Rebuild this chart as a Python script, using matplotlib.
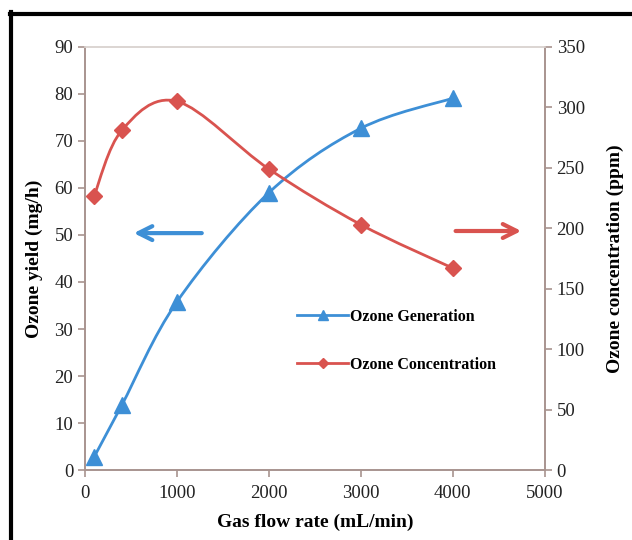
import matplotlib
matplotlib.use('Agg')
import matplotlib.pyplot as plt
from matplotlib.path import Path
from matplotlib.patches import PathPatch
from matplotlib.lines import Line2D
import numpy as np

flow = [100, 400, 1000, 2000, 3000, 4000]
yield_mgh = [2.8, 13.8, 35.8, 59.0, 72.7, 79.1]
conc_ppm = [227, 281, 305, 249, 203, 167]

blue = '#3d8fd6'
red = '#d9534f'
spine_c = '#a8948f'
serif = ['Liberation Serif', 'DejaVu Serif']


def smooth_path(xs, ys):
    # catmull-rom through the points, as cubic bezier segments
    p = np.column_stack([xs, ys]).astype(float)
    verts = [p[0]]
    codes = [Path.MOVETO]
    n = len(p)
    for i in range(n - 1):
        p0 = p[i - 1] if i > 0 else p[i]
        p1 = p[i]
        p2 = p[i + 1]
        p3 = p[i + 2] if i + 2 < n else p[i + 1]
        c1 = p1 + (p2 - p0) / 6.0
        c2 = p2 - (p3 - p1) / 6.0
        verts += [c1, c2, p2]
        codes += [Path.CURVE4] * 3
    return Path(verts, codes)


plt.rcParams['font.family'] = serif
fig = plt.figure(figsize=(6.32, 5.4), dpi=100)
ax = fig.add_axes([0.1345, 0.1296, 0.7275, 0.7834])
ax2 = ax.twinx()

ax.set_xlim(0, 5000)
ax.set_ylim(0, 90)
ax2.set_ylim(0, 350)

ax.add_patch(PathPatch(smooth_path(flow, yield_mgh), fill=False, edgecolor=blue, lw=2))
ax.plot(flow, yield_mgh, ls='none', marker='^', ms=11, color=blue)
ax2.add_patch(PathPatch(smooth_path(flow, conc_ppm), fill=False, edgecolor=red, lw=2))
ax2.plot(flow, conc_ppm, ls='none', marker='D', ms=8.5, color=red)

ax.set_xticks(range(0, 5001, 1000))
ax.set_yticks(range(0, 91, 10))
ax2.set_yticks(range(0, 351, 50))

for a in (ax, ax2):
    for s in a.spines.values():
        s.set_color(spine_c)
        s.set_linewidth(1.2)
    a.tick_params(colors=spine_c, labelcolor='#222222', labelsize=13.5, length=5, width=1.2)
ax.spines['top'].set_color('#dcd5d2')
ax2.spines['top'].set_color('#dcd5d2')
ax.tick_params(axis='x', pad=6)

ax.set_xlabel('Gas flow rate (mL/min)', fontsize=14, fontweight='bold', labelpad=8)
ax.set_ylabel('Ozone yield (mg/h)', fontsize=14, fontweight='bold', labelpad=8)
ax2.set_ylabel('Ozone concentration (ppm)', fontsize=14, fontweight='bold', labelpad=16)

# direction arrows
ax.annotate('', xy=(0.10, 0.56), xytext=(0.26, 0.56), xycoords='axes fraction',
            arrowprops=dict(arrowstyle='->', color=blue, lw=3, mutation_scale=25))
ax.annotate('', xy=(0.955, 0.565), xytext=(0.80, 0.565), xycoords='axes fraction',
            arrowprops=dict(arrowstyle='->', color=red, lw=3, mutation_scale=25))

h1 = Line2D([], [], color=blue, lw=2, marker='^', ms=7)
h2 = Line2D([], [], color=red, lw=2, marker='D', ms=5)
ax.legend([h1, h2], ['Ozone Generation', 'Ozone Concentration'], loc='upper left',
          bbox_to_anchor=(0.43, 0.415), frameon=False, handlelength=3.2,
          handletextpad=0.1, labelspacing=2.0,
          prop={'family': serif, 'weight': 'bold', 'size': 11.5})

# black frame lines at left and top edges
fig.add_artist(Line2D([0.018, 0.018], [0.0, 0.977], transform=fig.transFigure, color='black', lw=3))
fig.add_artist(Line2D([0.016, 1.0], [0.975, 0.975], transform=fig.transFigure, color='black', lw=3))

fig.savefig('out.png', dpi=100)
